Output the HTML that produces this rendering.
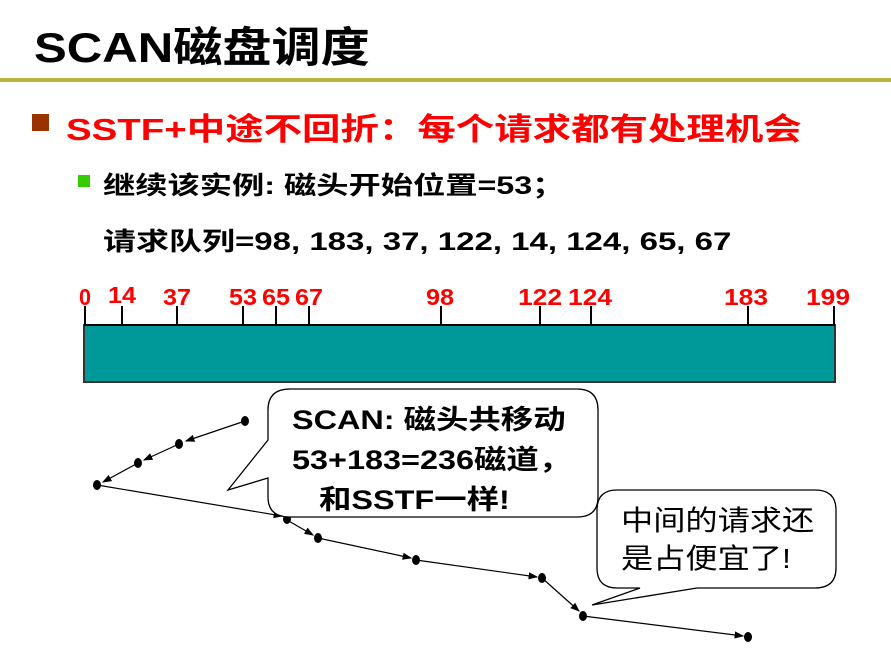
<!DOCTYPE html>
<html><head><meta charset="utf-8"><style>
body{margin:0;width:891px;height:670px;background:#fff;position:relative;overflow:hidden;font-family:"Liberation Sans","Noto Sans CJK SC",sans-serif;}
.a{position:absolute;white-space:nowrap;transform-origin:0 0}
</style></head><body>
<div class="a" style="left:34px;top:14px;font-size:42px;font-weight:bold;color:#000;transform:scaleX(1.17)">SCAN磁盘调度</div>
<div class="a" style="left:0;top:78px;width:891px;height:4px;background:#b8b83c"></div>
<div class="a" style="left:32px;top:114px;width:17px;height:17px;background:#993300"></div>
<div class="a" style="left:66px;top:104px;font-size:31px;font-weight:bold;color:#ff0000;transform:scaleX(1.24)">SSTF+中途不回折：每个请求都有处理机会</div>
<div class="a" style="left:78px;top:175px;width:12px;height:12px;background:#33cc00"></div>
<div class="a" style="left:103px;top:166px;font-size:25px;font-weight:bold;color:#000;transform:scaleX(1.29)">继续该实例: 磁头开始位置=53；</div>
<div class="a" style="left:103px;top:222px;font-size:25px;font-weight:bold;color:#000;transform:scaleX(1.32)">请求队列=98, 183, 37, 122, 14, 124, 65, 67</div>
<svg class="a" style="left:0;top:0" width="891" height="670">
<rect x="84" y="325" width="751" height="57" fill="#009999" stroke="#333" stroke-width="2"/>
<line x1="84" y1="325" x2="835" y2="325" stroke="#000" stroke-width="2"/>
<g stroke="#000" stroke-width="2">
<line x1="85" y1="306" x2="85" y2="325"/><line x1="122" y1="306" x2="122" y2="325"/><line x1="177" y1="306" x2="177" y2="325"/><line x1="243" y1="306" x2="243" y2="325"/><line x1="276" y1="306" x2="276" y2="325"/><line x1="309" y1="306" x2="309" y2="325"/><line x1="441" y1="306" x2="441" y2="325"/><line x1="540" y1="306" x2="540" y2="325"/><line x1="591" y1="306" x2="591" y2="325"/><line x1="748" y1="306" x2="748" y2="325"/><line x1="834" y1="306" x2="834" y2="325"/>
</g>
<g fill="#ff0000" font-weight="bold" font-size="23" font-family="Liberation Sans, sans-serif" text-anchor="middle">
<text x="85" y="305" textLength="12" lengthAdjust="spacingAndGlyphs">0</text><text x="122" y="303" textLength="28" lengthAdjust="spacingAndGlyphs">14</text><text x="177" y="305" textLength="28" lengthAdjust="spacingAndGlyphs">37</text><text x="243" y="305" textLength="28" lengthAdjust="spacingAndGlyphs">53</text><text x="276" y="305" textLength="28" lengthAdjust="spacingAndGlyphs">65</text><text x="309" y="305" textLength="28" lengthAdjust="spacingAndGlyphs">67</text><text x="440" y="305" textLength="28" lengthAdjust="spacingAndGlyphs">98</text><text x="540" y="305" textLength="44" lengthAdjust="spacingAndGlyphs">122</text><text x="590" y="305" textLength="44" lengthAdjust="spacingAndGlyphs">124</text><text x="746" y="305" textLength="44" lengthAdjust="spacingAndGlyphs">183</text><text x="828" y="305" textLength="44" lengthAdjust="spacingAndGlyphs">199</text>
</g>
<defs><marker id="m" markerWidth="8" markerHeight="8" refX="7" refY="4" orient="auto"><path d="M0,1 L8,4 L0,7z" fill="#000"/></marker></defs>
<g stroke="#000" stroke-width="1.2" fill="none" marker-end="url(#m)">
<line x1="245" y1="421" x2="186" y2="441"/><line x1="179" y1="444" x2="144" y2="460"/><line x1="138" y1="463" x2="103" y2="482"/><line x1="97" y1="485" x2="282" y2="516"/><line x1="287" y1="520" x2="313" y2="535"/><line x1="318" y1="538" x2="411" y2="558"/><line x1="416" y1="560" x2="537" y2="577"/><line x1="542" y1="578" x2="579" y2="611"/><line x1="583" y1="616" x2="743" y2="636"/>
</g>
<g fill="#000">
<ellipse cx="245" cy="421" rx="4" ry="5"/><ellipse cx="179" cy="444" rx="4" ry="5"/><ellipse cx="138" cy="463" rx="4" ry="5"/><ellipse cx="97" cy="485" rx="4" ry="5"/><ellipse cx="287" cy="519" rx="4" ry="5"/><ellipse cx="318" cy="538" rx="4" ry="5"/><ellipse cx="416" cy="560" rx="4" ry="5"/><ellipse cx="542" cy="578" rx="4" ry="5"/><ellipse cx="583" cy="616" rx="4" ry="5"/><ellipse cx="748" cy="637" rx="4" ry="5"/>
</g>
<path d="M290,389 H577 Q598,389 598,410 V497 Q598,517 577,517 H290 Q268,517 268,497 V478 L228,490 L268,440 V410 Q268,389 290,389Z" fill="#fff" stroke="#000" stroke-width="1.3"/>
<path d="M617,490 H815 Q836,490 836,510 V568 Q836,588 815,588 H697 L592,605 L640,588 H617 Q597,588 597,568 V510 Q597,490 617,490Z" fill="#fff" stroke="#000" stroke-width="1.3"/>
</svg>
<div class="a" style="left:292px;top:400px;font-size:27px;font-weight:bold;color:#000;line-height:40px;transform:scaleX(1.2)">SCAN: 磁头共移动<br>53+183=236磁道，<br>&nbsp;&nbsp;&nbsp;和SSTF一样!</div>
<div class="a" style="left:621px;top:502px;font-size:28px;color:#000;line-height:38px;transform:scaleX(1.15)">中间的请求还<br>是占便宜了!</div>
</body></html>
